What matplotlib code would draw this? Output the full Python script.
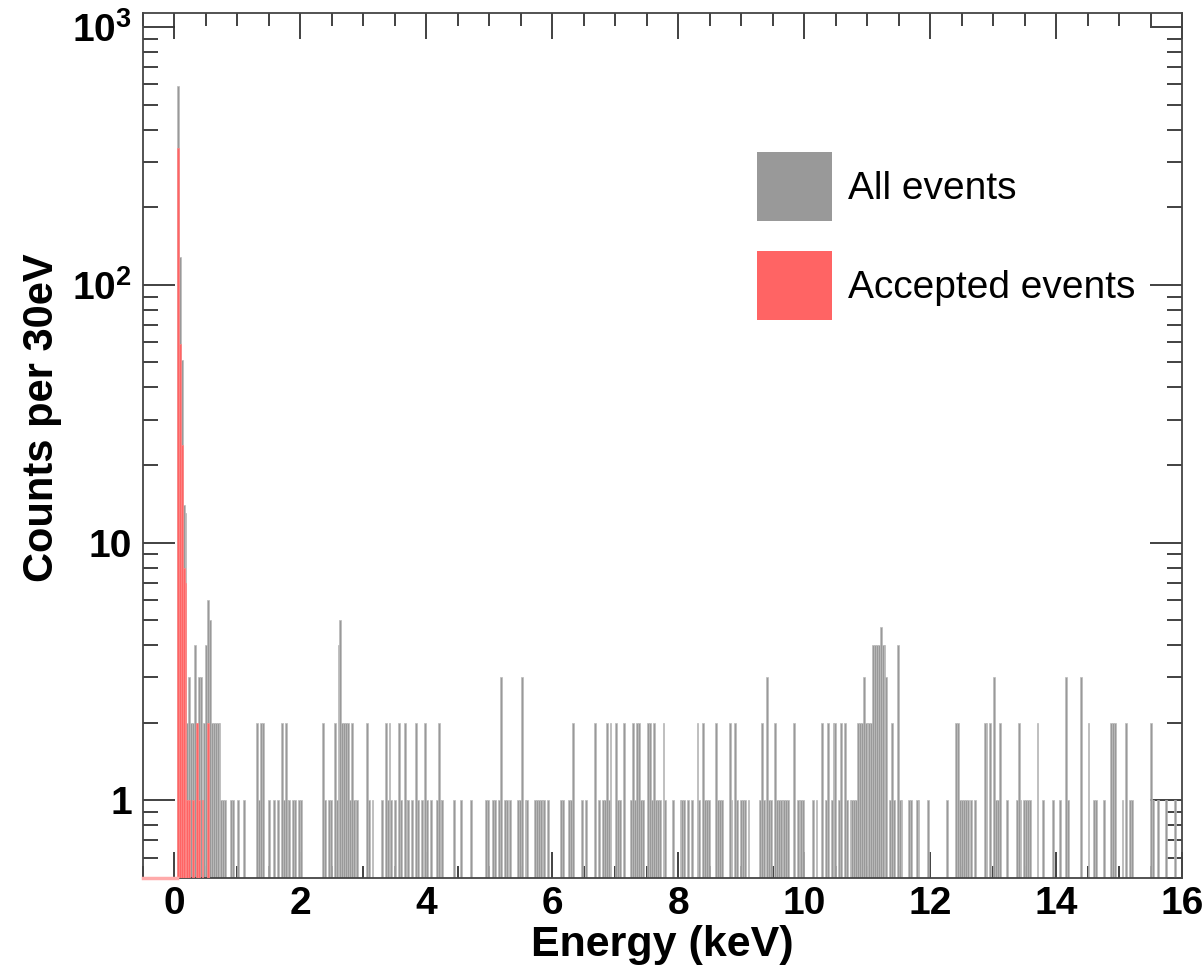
import numpy as np
import matplotlib.pyplot as plt
from matplotlib.patches import Patch
from matplotlib.ticker import MultipleLocator, FixedLocator, LogLocator, NullFormatter

plt.rcParams['font.family'] = ['Liberation Sans', 'DejaVu Sans']
plt.rcParams['mathtext.fontset'] = 'custom'
plt.rcParams['mathtext.rm'] = 'Liberation Sans'
plt.rcParams['mathtext.bf'] = 'Liberation Sans:bold'

# binning: 30 eV bins from -0.5 to 16 keV
e_lo, e_hi, bin_w = -0.5, 16.0, 0.03

# all events: bin centre (keV) and counts
all_energy = [
    0.055, 0.085, 0.115, 0.145, 0.175, 0.205, 0.235, 0.265, 0.295, 0.325,
    0.355, 0.385, 0.415, 0.445, 0.475, 0.505, 0.535, 0.565, 0.595, 0.625,
    0.655, 0.685, 0.715, 0.745, 0.775, 0.805, 0.895, 0.925, 1.015, 1.105,
    1.315, 1.345, 1.375, 1.405, 1.495, 1.585, 1.645, 1.705, 1.735, 1.765,
    1.795, 1.825, 1.885, 1.915, 1.975, 2.005,
    2.365, 2.395, 2.455, 2.485, 2.545, 2.575, 2.605, 2.635, 2.665, 2.695,
    2.725, 2.755, 2.785, 2.815, 2.845, 2.875, 2.905,
    3.055, 3.085, 3.145, 3.295, 3.355, 3.385, 3.415, 3.445, 3.505, 3.565,
    3.595, 3.655, 3.685, 3.715, 3.775, 3.835, 3.865, 3.925, 3.985, 4.015,
    4.075, 4.165, 4.195, 4.225, 4.255, 4.435, 4.555, 4.705,
    4.945, 4.975, 5.065, 5.095, 5.155, 5.185, 5.245, 5.275, 5.335, 5.455,
    5.485, 5.515, 5.575, 5.605, 5.725, 5.755, 5.785, 5.815, 5.845, 5.875,
    5.935, 6.145, 6.175, 6.265, 6.295, 6.325, 6.475, 6.535,
    6.685, 6.745, 6.805, 6.835, 6.865, 6.895, 6.925, 7.015, 7.045, 7.075,
    7.135, 7.255, 7.285, 7.315, 7.345, 7.375, 7.405, 7.435, 7.525, 7.555,
    7.585, 7.615, 7.645, 7.675, 7.705, 7.765, 7.795, 7.915,
    8.035, 8.065, 8.095, 8.155, 8.215, 8.305, 8.335, 8.395, 8.425, 8.455,
    8.485, 8.605, 8.635, 8.665, 8.695, 8.815, 8.845, 8.905, 8.935, 8.995,
    9.025, 9.055, 9.115,
    9.295, 9.325, 9.355, 9.415, 9.445, 9.475, 9.535, 9.565, 9.595, 9.625,
    9.655, 9.685, 9.715, 9.745, 9.835, 9.895, 9.925, 9.955, 9.985,
    10.135, 10.195, 10.285, 10.345, 10.375, 10.435, 10.465, 10.495, 10.555,
    10.585, 10.645, 10.675, 10.735, 10.765, 10.795, 10.825, 10.855, 10.885,
    10.915, 10.945, 10.975, 11.005, 11.035, 11.065, 11.095, 11.125, 11.155,
    11.185, 11.215, 11.245, 11.275, 11.305, 11.365, 11.395, 11.425, 11.485,
    11.515, 11.545, 11.665, 11.695, 11.785, 11.815, 11.965,
    12.265, 12.415, 12.445, 12.475, 12.505, 12.535, 12.565, 12.595, 12.655,
    12.715, 12.865, 12.895, 12.955, 13.015, 13.045, 13.075, 13.105, 13.225,
    13.375, 13.405, 13.435, 13.495, 13.525, 13.555, 13.585, 13.705, 13.795,
    13.945, 14.065, 14.155, 14.185,
    14.395, 14.515, 14.605, 14.635, 14.755, 14.875, 14.905, 14.935, 15.055,
    15.115, 15.175, 15.205, 15.505, 15.535, 15.625, 15.745, 15.895,
]
all_counts = [
    590, 128, 51, 14, 13, 2, 3, 2, 2, 4,
    2, 3, 3, 1, 2, 4, 6, 5, 2, 2,
    2, 2, 2, 1, 1, 1, 1, 1, 1, 1,
    2, 1, 2, 2, 1, 1, 1, 2, 1, 2,
    1, 1, 1, 1, 1, 1,
    2, 1, 1, 1, 2, 1, 4, 5, 2, 2,
    2, 2, 1, 2, 1, 1, 1,
    2, 1, 1, 1, 2, 1, 2, 1, 1, 2,
    1, 2, 1, 1, 1, 2, 1, 1, 2, 1,
    1, 1, 2, 1, 1, 1, 1, 1,
    1, 1, 1, 1, 1, 3, 1, 1, 1, 1,
    1, 3, 1, 1, 1, 1, 1, 1, 1, 1,
    1, 1, 1, 1, 1, 2, 1, 1,
    2, 1, 1, 1, 2, 1, 2, 2, 1, 1,
    2, 1, 2, 1, 2, 2, 1, 1, 2, 2,
    1, 2, 1, 1, 1, 2, 1, 1,
    1, 1, 1, 1, 1, 2, 1, 2, 1, 1,
    1, 2, 1, 1, 1, 2, 1, 2, 1, 1,
    1, 1, 1,
    1, 2, 1, 3, 1, 1, 2, 1, 1, 1,
    1, 1, 1, 1, 2, 1, 1, 1, 1,
    1, 1, 2, 1, 2, 1, 2, 2, 1,
    2, 2, 1, 1, 1, 1, 1, 2, 2,
    2, 3, 2, 2, 2, 2, 4, 4, 4,
    4, 4.7, 4, 4, 3, 1, 2, 1, 4,
    1, 1, 1, 1, 1, 1, 1,
    1, 2, 2, 1, 1, 1, 1, 1, 1,
    1, 2, 2, 2, 3, 1, 1, 2, 1,
    1, 2, 1, 1, 1, 1, 1, 2, 1,
    1, 1, 3, 1,
    3, 2, 1, 1, 1, 2, 2, 2, 1,
    2, 1, 1, 2, 1, 1, 1, 1,
]

# accepted events
acc_energy = [0.055, 0.085, 0.115, 0.145, 0.175, 0.205, 0.235, 0.295, 0.355,
              0.385, 0.445, 0.535]
acc_counts = [340, 59, 24, 8, 7, 1, 1, 1, 2, 1, 1, 2]

edges = np.arange(e_lo, e_hi + bin_w / 2, bin_w)
centers = 0.5 * (edges[:-1] + edges[1:])


def fill_hist(energy, counts):
    h = np.zeros(len(centers))
    idx = np.floor((np.asarray(energy) - e_lo) / bin_w).astype(int)
    h[idx] = counts
    return h


h_all = fill_hist(all_energy, all_counts)
h_acc = fill_hist(acc_energy, acc_counts)

fig = plt.figure(figsize=(12.02, 9.72), dpi=100)
ax = fig.add_axes([143 / 1202, 1 - 878 / 972, 1039 / 1202, 865 / 972])

gray = '#999999'
red = '#ff6464'
nz = h_all > 0
ax.bar(centers[nz], h_all[nz], width=bin_w, color=gray, edgecolor='#bcbcbc',
       linewidth=0.5, zorder=2)
nz = h_acc > 0
ax.bar(centers[nz], h_acc[nz], width=bin_w, color=red, edgecolor='#ff8888',
       linewidth=0.5, zorder=3)
# empty part of the accepted histogram along the floor
ax.plot([e_lo, 0.04], [0.5, 0.5], color='#ffaaaa', lw=2.5, zorder=6, clip_on=False)

ax.set_yscale('log')
ax.set_xlim(e_lo, e_hi)
ax.set_ylim(0.5, 1133)

ax.xaxis.set_major_locator(MultipleLocator(2))
ax.xaxis.set_minor_locator(MultipleLocator(0.5))
ax.yaxis.set_major_locator(FixedLocator([1, 10, 100, 1000]))
ax.yaxis.set_minor_locator(LogLocator(base=10, subs=np.arange(2, 10)))
ax.yaxis.set_minor_formatter(NullFormatter())
ax.set_yticklabels(['1', '10', r'$\mathbf{10^{2}}$', r'$\mathbf{10^{3}}$'])

ax.tick_params(which='both', direction='in', top=True, right=True,
               color='#333333', width=1.3)
ax.tick_params(axis='x', which='major', length=19, pad=6)
ax.tick_params(axis='x', which='minor', length=9)
ax.tick_params(axis='y', which='major', length=23, pad=8)
ax.tick_params(axis='y', which='minor', length=11)
for lab in ax.get_xticklabels() + ax.get_yticklabels():
    lab.set_fontsize(28)
    lab.set_fontweight('bold')

for s in ax.spines.values():
    s.set_color('#444444')
    s.set_linewidth(1.3)

ax.set_xlabel('Energy (keV)', fontsize=31, fontweight='bold')
ax.set_ylabel('Counts per 30eV', fontsize=30, fontweight='bold')
ax.xaxis.set_label_coords(0.5, -0.054)
ax.yaxis.set_label_coords(-0.078, 0.532)

handles = [Patch(facecolor=gray, edgecolor='none'),
           Patch(facecolor=red, edgecolor='none')]
ax.legend(handles, ['All events', 'Accepted events'], loc='upper left',
          bbox_to_anchor=(0.591, 0.839), frameon=False, fontsize=28,
          handlelength=1.93, handleheight=2.35, labelspacing=0.77,
          handletextpad=0.41, borderpad=0, borderaxespad=0)

fig.savefig('out.png', dpi=100)
